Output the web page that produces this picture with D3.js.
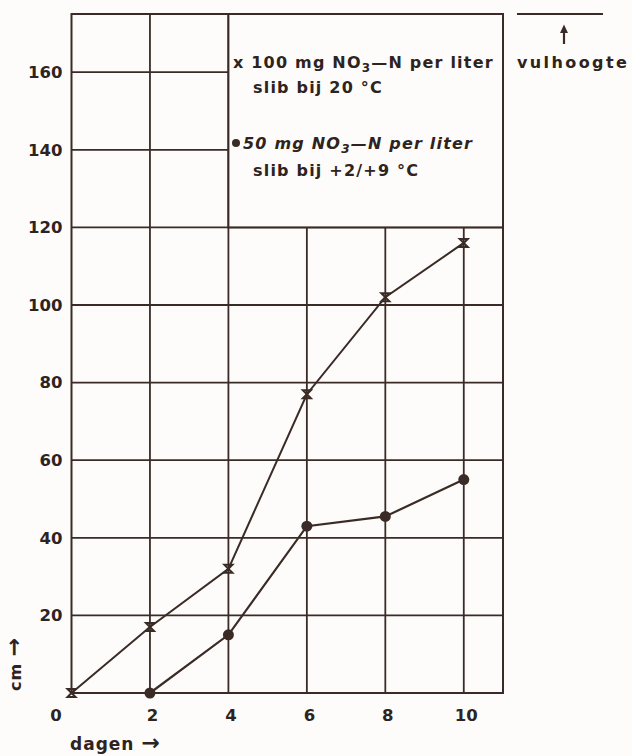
<!DOCTYPE html>
<html>
<head>
<meta charset="utf-8">
<script src="https://cdn.jsdelivr.net/npm/d3@7"></script>
<style>
  body { margin: 0; background: #fdfcfa; }
  svg { display: block; }
  text { font-family: "DejaVu Sans", "Liberation Sans", sans-serif; fill: #2e2320; font-weight: bold; }
</style>
</head>
<body>
<svg id="chart" width="632" height="756"></svg>
<script>
// days on x axis
const days100 = [0, 2, 4, 6, 8, 10];
const height100 = [0, 17, 32, 77, 102, 116];   // x 100 mg NO3-N, 20 C
const days50 = [2, 4, 6, 8, 10];
const height50 = [0, 15, 43, 45.5, 55];        // • 50 mg NO3-N, +2/+9 C

const xTicks = [0, 2, 4, 6, 8, 10];
const yTicks = [20, 40, 60, 80, 100, 120, 140, 160];

const ink = "#3a2b26";
const svg = d3.select("#chart");

const x = d3.scaleLinear().domain([0, 11]).range([71.5, 503]);
const y = d3.scaleLinear().domain([0, 175]).range([693, 14]);

// grid
const grid = svg.append("g").attr("stroke", ink).attr("stroke-width", 1.8);
grid.selectAll("line.v")
    .data(xTicks.filter(d => d > 0))
    .enter().append("line")
    .attr("x1", d => x(d)).attr("x2", d => x(d))
    .attr("y1", y(0))
    .attr("y2", d => d > 4 ? y(120) : y(175));
grid.selectAll("line.h")
    .data(yTicks)
    .enter().append("line")
    .attr("y1", d => y(d)).attr("y2", d => y(d))
    .attr("x1", x(0))
    .attr("x2", d => d > 120 ? x(4) : x(11));

// frame
svg.append("rect")
    .attr("x", x(0)).attr("y", y(175))
    .attr("width", x(11) - x(0)).attr("height", y(0) - y(175))
    .attr("fill", "none").attr("stroke", ink).attr("stroke-width", 2);

// legend box
svg.append("rect")
    .attr("x", x(4)).attr("y", y(175))
    .attr("width", x(11) - x(4)).attr("height", y(120) - y(175))
    .attr("fill", "#fdfcfa").attr("stroke", ink).attr("stroke-width", 2);

// y labels
const yAxis = svg.append("g")
    .attr("transform", `translate(${x(0)},0)`)
    .call(d3.axisLeft(y).tickValues(yTicks).tickSize(0).tickPadding(9));
yAxis.select(".domain").remove();
yAxis.selectAll("text")
    .style("font-size", "16.5px").style("font-weight", "bold")
    .style("font-family", "DejaVu Sans")
    .attr("fill", "#2e2320");

// x labels
const xAxis = svg.append("g")
    .attr("transform", `translate(0,${y(0)})`)
    .call(d3.axisBottom(x).tickValues(xTicks).tickSize(0).tickPadding(16));
xAxis.select(".domain").remove();
xAxis.selectAll("text")
    .style("font-size", "16.5px").style("font-weight", "bold")
    .style("font-family", "DejaVu Sans")
    .attr("fill", "#2e2320")
    .attr("dx", d => d === 0 ? -16 : 2);

// lines
const line = d3.line().x(d => x(d[0])).y(d => y(d[1]));
svg.append("path")
    .datum(d3.zip(days100, height100))
    .attr("d", line)
    .attr("fill", "none").attr("stroke", ink).attr("stroke-width", 2);
svg.append("path")
    .datum(d3.zip(days50, height50))
    .attr("d", line)
    .attr("fill", "none").attr("stroke", ink).attr("stroke-width", 2.2);

// markers
svg.selectAll("path.cross")
    .data(d3.zip(days100, height100))
    .enter().append("path")
    .attr("transform", d => `translate(${x(d[0])},${y(d[1])})`)
    .attr("d", "M-4,-4L4,-4L-4,4L4,4Z")
    .attr("fill", "none").attr("stroke", ink).attr("stroke-width", 2);
svg.selectAll("circle.dot")
    .data(d3.zip(days50, height50))
    .enter().append("circle")
    .attr("cx", d => x(d[0])).attr("cy", d => y(d[1]))
    .attr("r", 5.5).attr("fill", ink);

// legend text
const leg = svg.append("g").style("font-size", "16px").style("letter-spacing", "1.2px");
const t1 = leg.append("text").attr("x", 233).attr("y", 68);
t1.append("tspan").text("x 100 mg NO");
t1.append("tspan").attr("dy", 4).style("font-size", "12px").text("3");
t1.append("tspan").attr("dy", -4).text("—N per liter");
leg.append("text").attr("x", 253).attr("y", 93).text("slib bij 20 °C");

leg.append("circle").attr("cx", 236).attr("cy", 143).attr("r", 4).attr("fill", ink);
const t3 = leg.append("text").attr("x", 243).attr("y", 149).style("font-style", "italic");
t3.append("tspan").text("50 mg NO");
t3.append("tspan").attr("dy", 4).style("font-size", "12px").text("3");
t3.append("tspan").attr("dy", -4).text("—N per liter");
leg.append("text").attr("x", 253).attr("y", 176).text("slib bij +2/+9 °C");

// vulhoogte
svg.append("line").attr("x1", 517).attr("x2", 603).attr("y1", 14).attr("y2", 14)
    .attr("stroke", ink).attr("stroke-width", 2);
svg.append("line").attr("x1", 564).attr("x2", 564).attr("y1", 30).attr("y2", 44)
    .attr("stroke", ink).attr("stroke-width", 2.2);
svg.append("path").attr("d", "M564,24.5L560,33L568,33Z").attr("fill", ink);
svg.append("text").attr("x", 517).attr("y", 68)
    .style("font-size", "16px").style("letter-spacing", "2.4px").text("vulhoogte");

// axis titles
const xt = svg.append("text").attr("x", 70).attr("y", 750)
    .style("font-size", "17px").style("letter-spacing", "1px");
xt.append("tspan").text("dagen ");
xt.append("tspan").style("font-size", "22px").text("→");
const yt = svg.append("text")
    .attr("transform", "translate(21,691) rotate(-90)")
    .style("font-size", "16px").style("letter-spacing", "1px");
yt.append("tspan").text("cm ");
yt.append("tspan").style("font-size", "22px").text("→");
</script>
</body>
</html>
